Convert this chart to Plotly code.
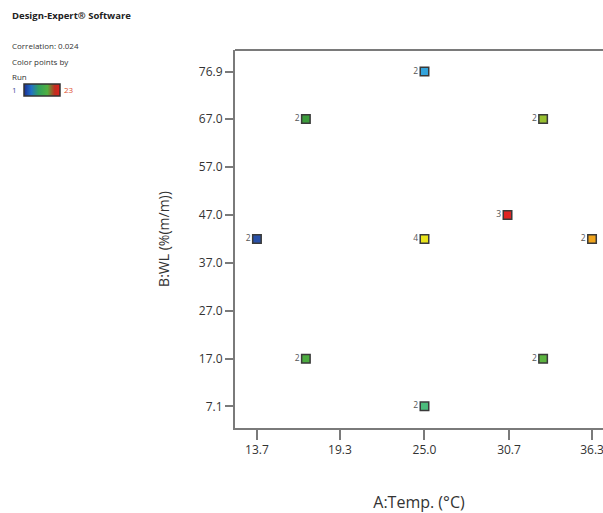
import plotly.graph_objects as go

# ---- data ----
temp = [13.7, 17.0, 25.0, 33.0, 30.6, 25.0, 36.3, 17.0, 33.0, 25.0]
wl = [42.0, 67.0, 76.9, 67.0, 47.0, 42.0, 42.0, 17.0, 17.0, 7.1]
counts = ["2", "2", "2", "2", "3", "4", "2", "2", "2", "2"]
x_ticks = [13.7, 19.3, 25.0, 30.7, 36.3]
y_ticks = [7.1, 17.0, 27.0, 37.0, 47.0, 57.0, 67.0, 76.9]

# ---- styles ----
point_colors = ["#2850a8", "#3c9c3c", "#34a4dc", "#98c030", "#e02424",
                "#e8e41c", "#f0a41c", "#4cac40", "#5cb440", "#4cbc7c"]
run_scale = [[0.0, "#1c2c90"], [0.2, "#2070c8"], [0.4, "#30a060"],
             [0.65, "#50b040"], [0.85, "#c03020"], [1.0, "#e02020"]]

FONT = "Open Sans"
L, T, R, B = 235, 49.5, 603, 427.7
W, H = R - L, B - T

def px(x):
    return (x - L) / W

def py(y):
    return (B - y) / H

fig = go.Figure()
fig.add_trace(go.Scatter(
    x=temp, y=wl, mode="markers+text", text=counts,
    textposition="middle left",
    textfont=dict(family=FONT, size=8.5, color="#555555"),
    marker=dict(symbol="square", size=8.5, color=point_colors,
                line=dict(color="#3a3a3a", width=1.5)),
    cliponaxis=False, showlegend=False, hoverinfo="x+y"))

# colour-scale bar (legend of run colouring)
fig.add_trace(go.Scatter(
    x=[None], y=[None], mode="markers", showlegend=False,
    marker=dict(color=[1, 23], cmin=1, cmax=23, colorscale=run_scale,
                showscale=True,
                colorbar=dict(orientation="h", lenmode="pixels", len=36,
                              thickness=12, x=px(23.5), xanchor="left",
                              xref="paper", yref="paper",
                              y=py(83.5), yanchor="top", xpad=0, ypad=0,
                              outlinecolor="#333333", outlinewidth=1.5,
                              showticklabels=False, ticks=""))))

axis_common = dict(showline=True, linecolor="#7a7a7a", linewidth=2,
                   ticks="outside", tickcolor="#7a7a7a", tickwidth=2,
                   showgrid=False, zeroline=False, automargin=False,
                   ticklabeloverflow="allow",
                   tickfont=dict(family=FONT, size=12, color="#333333"))

fig.update_xaxes(range=[12.22, 37.04], tickvals=x_ticks,
                 ticktext=[f"{v:.1f}" for v in x_ticks], ticklen=10,
                 title_text="A:Temp. (°C)", title_standoff=40,
                 title_font=dict(family=FONT, size=16, color="#333333"),
                 **axis_common)
fig.update_yaxes(range=[2.58, 81.4], tickvals=y_ticks,
                 ticktext=[f"{v:.1f}" for v in y_ticks], ticklen=8,
                 title_text="B:WL (%(m/m))", title_standoff=26,
                 title_font=dict(family=FONT, size=14, color="#333333"),
                 **axis_common)

# top frame line
fig.add_shape(type="line", xref="paper", yref="paper", x0=0, x1=1, y0=1, y1=1,
              line=dict(color="#7a7a7a", width=2))

notes = [
    (10, 15, "<b>Design-Expert® Software</b>", "#222222", 9.5),
    (10, 45, "Correlation: 0.024", "#333333", 8),
    (10, 61.5, "Color points by", "#333333", 8),
    (10, 76, "Run", "#333333", 8),
    (10, 89.5, "1", "#4050a0", 8),
    (61.5, 89.5, "23", "#e05030", 8),
]
for xp, yp, txt, col, sz in notes:
    fig.add_annotation(x=px(xp), y=py(yp), xref="paper", yref="paper",
                       text=txt, showarrow=False, xanchor="left",
                       yanchor="middle",
                       font=dict(family=FONT, size=sz, color=col))

fig.update_layout(width=603, height=513,
                  margin=dict(l=L, r=0, t=T, b=513 - B, autoexpand=False),
                  plot_bgcolor="white", paper_bgcolor="white")

fig.write_html("out.html", config={"displayModeBar": False},
               post_script="document.body.style.margin='0';"
                           "document.body.style.overflow='hidden';")
